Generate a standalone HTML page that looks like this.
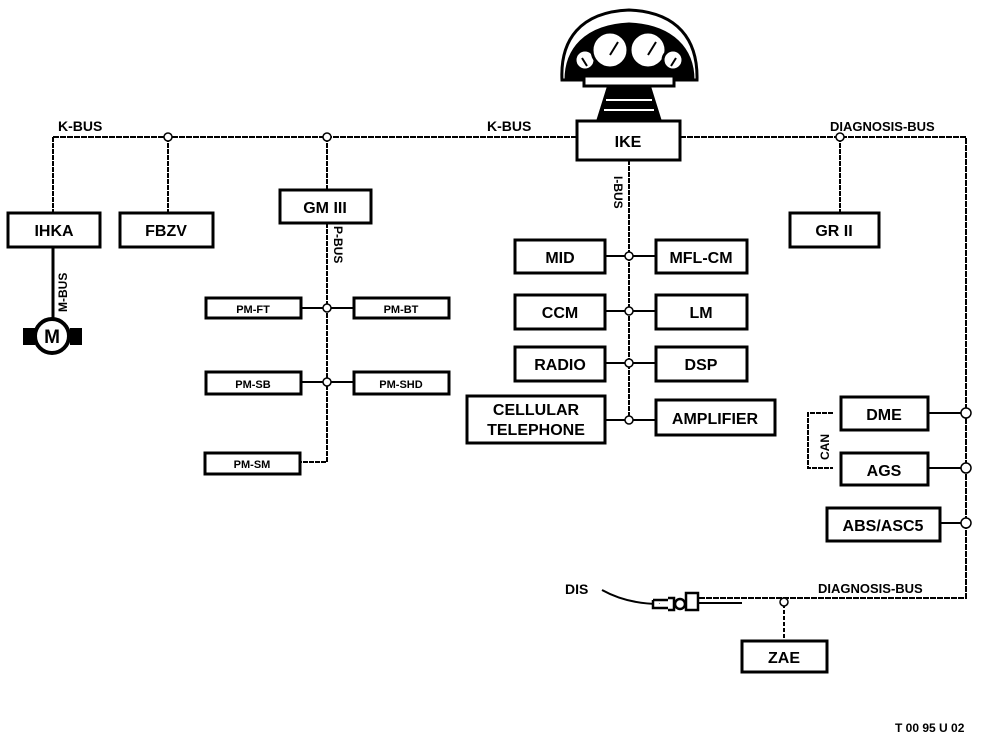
<!DOCTYPE html>
<html><head><style>
html,body{margin:0;padding:0;background:#fff;}
svg{display:block;}
text{font-family:"Liberation Sans",Arial,sans-serif;font-weight:bold;fill:#000;}
</style></head><body>
<svg width="992" height="738" viewBox="0 0 992 738" xmlns="http://www.w3.org/2000/svg">
<g fill="none" stroke="#000" stroke-width="2">
<!-- K-bus -->
<path d="M53 137H576" stroke-dasharray="6 1"/>
<path d="M53 137V212" stroke-dasharray="5 1"/>
<path d="M168 137V212" stroke-dasharray="5 1"/>
<path d="M327 137V189" stroke-dasharray="5 1"/>
<!-- diag bus -->
<path d="M680 137H966V598H690" stroke-dasharray="6 1"/>
<path d="M840 137V212" stroke-dasharray="5 1"/>
<!-- I bus -->
<path d="M629 160V420" stroke-dasharray="5 1"/>
<path d="M605 256H655M605 311H655M605 363H655M605 420H655"/>
<!-- P bus -->
<path d="M327 223V462H300" stroke-dasharray="5 1"/>
<path d="M301 308H353M301 382H353"/>
<!-- M bus -->
<path d="M53 247V319" stroke-width="3"/>
<!-- right side connectors -->
<path d="M928 413H966M928 468H966M940 523H966"/>
<path d="M833 413H808V468H833" stroke-dasharray="5 1"/>
<path d="M784 598V640" stroke-dasharray="4 2"/>
<path d="M602 590C620 600 640 604 660 604"/>
</g>
<!-- junctions -->
<g fill="#fff" stroke="#000" stroke-width="1.5">
<circle cx="168" cy="137" r="4"/><circle cx="327" cy="137" r="4"/><circle cx="840" cy="137" r="4"/>
<circle cx="629" cy="256" r="4"/><circle cx="629" cy="311" r="4"/><circle cx="629" cy="363" r="4"/><circle cx="629" cy="420" r="4"/>
<circle cx="327" cy="308" r="4"/><circle cx="327" cy="382" r="4"/>
<circle cx="966" cy="413" r="5"/><circle cx="966" cy="468" r="5"/><circle cx="966" cy="523" r="5"/>
<circle cx="784" cy="602" r="4"/>
</g>
<!-- boxes -->
<g fill="#fff" stroke="#000" stroke-width="3">
<rect x="577" y="121" width="103" height="39"/>
<rect x="8" y="213" width="92" height="34"/>
<rect x="120" y="213" width="93" height="34"/>
<rect x="280" y="190" width="91" height="33"/>
<rect x="206" y="298" width="95" height="20"/>
<rect x="354" y="298" width="95" height="20"/>
<rect x="206" y="372" width="95" height="22"/>
<rect x="354" y="372" width="95" height="22"/>
<rect x="205" y="453" width="95" height="21"/>
<rect x="515" y="240" width="90" height="33"/>
<rect x="656" y="240" width="91" height="33"/>
<rect x="515" y="295" width="90" height="34"/>
<rect x="656" y="295" width="91" height="34"/>
<rect x="515" y="347" width="90" height="34"/>
<rect x="656" y="347" width="91" height="34"/>
<rect x="467" y="396" width="138" height="47"/>
<rect x="656" y="400" width="119" height="35"/>
<rect x="790" y="213" width="89" height="34"/>
<rect x="841" y="397" width="87" height="33"/>
<rect x="841" y="453" width="87" height="32"/>
<rect x="827" y="508" width="113" height="33"/>
<rect x="742" y="641" width="85" height="31"/>
</g>
<!-- motor -->
<g stroke="#000" stroke-width="4" fill="#fff">
<rect x="25" y="330" width="8" height="13" fill="#000"/>
<rect x="72" y="330" width="8" height="13" fill="#000"/>
<circle cx="52" cy="336" r="17"/>
</g>
<text x="52" y="343" font-size="19" text-anchor="middle">M</text>
<!-- DIS connector -->
<g stroke="#000" stroke-width="2.5" fill="#fff">
<path d="M653 600H668M668 598h6v12h-6M653 600v8h15"/>
<rect x="686" y="593" width="12" height="17"/>
<circle cx="680" cy="604" r="5"/>
</g>
<path d="M698 603H742" stroke="#000" stroke-width="2"/>
<!-- instrument cluster -->
<g stroke="#000" fill="#fff" stroke-width="3">
<path d="M598 120L608 88H650L660 120Z" fill="#000"/>
<path d="M604 110H654M606 100H652" stroke="#fff" stroke-width="2"/>
<path d="M562 80C560 40 580 12 629 10C678 12 698 40 697 80Z"/>
<path d="M566 80C566 50 585 26 629 24C673 26 693 50 693 80Z" fill="#000"/>
<circle cx="585" cy="60" r="10"/><circle cx="610" cy="50" r="18"/>
<circle cx="648" cy="50" r="18"/><circle cx="673" cy="60" r="10"/>
<path d="M610 55L618 42M648 55L656 42M587 66L582 58M671 66L676 58" stroke-width="2"/>
<rect x="584" y="76" width="90" height="10"/>
</g>
<!-- labels -->
<g font-size="14">
<text x="58" y="131">K-BUS</text>
<text x="487" y="131">K-BUS</text>
<text x="830" y="131" font-size="13">DIAGNOSIS-BUS</text>
<text x="818" y="593" font-size="13">DIAGNOSIS-BUS</text>
<text x="565" y="594">DIS</text>
<text x="628" y="147" text-anchor="middle" font-size="16">IKE</text>
<text x="54" y="236" text-anchor="middle" font-size="16">IHKA</text>
<text x="166" y="236" text-anchor="middle" font-size="16">FBZV</text>
<text x="325" y="213" text-anchor="middle" font-size="16">GM III</text>
<text x="253" y="313" text-anchor="middle" font-size="11">PM-FT</text>
<text x="401" y="313" text-anchor="middle" font-size="11">PM-BT</text>
<text x="253" y="388" text-anchor="middle" font-size="11">PM-SB</text>
<text x="401" y="388" text-anchor="middle" font-size="11">PM-SHD</text>
<text x="252" y="468" text-anchor="middle" font-size="11">PM-SM</text>
<text x="560" y="263" text-anchor="middle" font-size="16">MID</text>
<text x="701" y="263" text-anchor="middle" font-size="16">MFL-CM</text>
<text x="560" y="318" text-anchor="middle" font-size="16">CCM</text>
<text x="701" y="318" text-anchor="middle" font-size="16">LM</text>
<text x="560" y="370" text-anchor="middle" font-size="16">RADIO</text>
<text x="701" y="370" text-anchor="middle" font-size="16">DSP</text>
<text x="536" y="415" text-anchor="middle" font-size="16">CELLULAR</text>
<text x="536" y="435" text-anchor="middle" font-size="16">TELEPHONE</text>
<text x="715" y="424" text-anchor="middle" font-size="16">AMPLIFIER</text>
<text x="834" y="236" text-anchor="middle" font-size="16">GR II</text>
<text x="884" y="420" text-anchor="middle" font-size="16">DME</text>
<text x="884" y="476" text-anchor="middle" font-size="16">AGS</text>
<text x="883" y="531" text-anchor="middle" font-size="16">ABS/ASC5</text>
<text x="784" y="663" text-anchor="middle" font-size="16">ZAE</text>
<text x="895" y="732" font-size="12" font-weight="normal">T 00 95 U 02</text>
</g>
<g font-size="12">
<text transform="translate(67 312) rotate(-90)">M-BUS</text>
<text transform="translate(334 226) rotate(90)">P-BUS</text>
<text transform="translate(614 176) rotate(90)">I-BUS</text>
<text transform="translate(829 460) rotate(-90)">CAN</text>
</g>
</svg>
</body></html>
